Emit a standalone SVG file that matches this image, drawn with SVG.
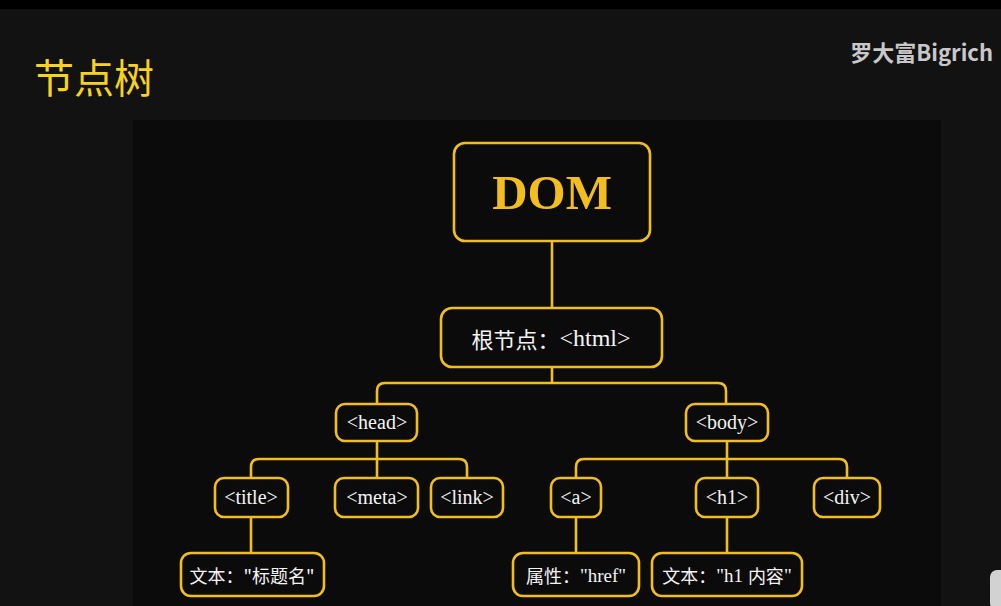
<svg xmlns="http://www.w3.org/2000/svg" width="1001" height="606" viewBox="0 0 1001 606">
<style>
.box{fill:#0b0b0b;stroke:#f2be1f;stroke-width:2.6}
.ln{fill:none;stroke:#f2be1f;stroke-width:2.6}
.t{font-family:"Liberation Serif","Noto Sans CJK SC",serif;fill:#f4f4f4;font-size:20px;text-anchor:middle;dominant-baseline:central}
.c{font-family:"Noto Sans CJK SC","Liberation Sans",sans-serif;fill:#f4f4f4;font-size:18px;text-anchor:middle;dominant-baseline:central}
.s{font-family:"Liberation Serif",serif;font-size:19px}
</style>
<rect x="0" y="0" width="1001" height="606" fill="#121212"/>
<rect x="0" y="0" width="1001" height="9" fill="#000"/>
<rect x="133" y="120" width="808" height="486" fill="#0b0b0b"/>
<text x="34" y="93" font-family="Noto Sans CJK SC,sans-serif" font-size="40" fill="#f7d21e">节点树</text>
<text x="993" y="61" text-anchor="end" font-family="Noto Sans CJK SC,sans-serif" font-weight="bold" font-size="22" fill="#c8c8c8">罗大富Bigrich</text>
<rect x="990" y="570" width="20" height="40" rx="7" fill="#d2d2d2"/>
<g id="connectors">
<path class="ln" d="M552 241V308"/>
<path class="ln" d="M552 367V383M377 404V391Q377 383 385 383H718Q726 383 726 391V404"/>
<path class="ln" d="M377 441V478M251 478V467Q251 459 259 459H459Q467 459 467 467V478"/>
<path class="ln" d="M727 441V478M576 478V467Q576 459 584 459H839Q847 459 847 467V478"/>
<path class="ln" d="M251 517V553"/>
<path class="ln" d="M576 517V553"/>
<path class="ln" d="M727 517V553"/>
</g>
<g id="dom"><rect class="box" x="454" y="143" width="196" height="98" rx="11"/><text x="552" y="192" text-anchor="middle" dominant-baseline="central" font-family="Liberation Serif,serif" font-weight="bold" font-size="49" fill="#f2be1f">DOM</text></g>
<g id="html"><rect class="box" x="441" y="308" width="221" height="59" rx="11"/><text class="t" x="551" y="338" style="font-size:24px"><tspan font-family="Noto Sans CJK SC,sans-serif" style="font-size:22px">根节点：</tspan>&lt;html&gt;</text></g>
<g id="head"><rect class="box" x="336" y="404" width="81" height="37" rx="9"/><text class="t" x="377" y="422">&lt;head&gt;</text></g>
<g id="body"><rect class="box" x="686" y="404" width="82" height="37" rx="9"/><text class="t" x="727" y="422">&lt;body&gt;</text></g>
<g id="title"><rect class="box" x="215" y="478" width="73" height="39" rx="9"/><text class="t" x="251" y="497">&lt;title&gt;</text></g>
<g id="meta"><rect class="box" x="335" y="478" width="83" height="39" rx="9"/><text class="t" x="377" y="497">&lt;meta&gt;</text></g>
<g id="link"><rect class="box" x="431" y="478" width="72" height="39" rx="9"/><text class="t" x="467" y="497">&lt;link&gt;</text></g>
<g id="a"><rect class="box" x="551" y="478" width="50" height="39" rx="9"/><text class="t" x="576" y="497">&lt;a&gt;</text></g>
<g id="h1"><rect class="box" x="696" y="478" width="62" height="39" rx="9"/><text class="t" x="727" y="497">&lt;h1&gt;</text></g>
<g id="div"><rect class="box" x="814" y="478" width="66" height="39" rx="9"/><text class="t" x="847" y="497">&lt;div&gt;</text></g>
<g id="text-title"><rect class="box" x="181" y="553" width="143" height="43" rx="10"/><text class="c" x="252" y="575">文本："标题名"</text></g>
<g id="attr-href"><rect class="box" x="513" y="553" width="126" height="43" rx="10"/><text class="c" x="576" y="575">属性：<tspan class="s">"href"</tspan></text></g>
<g id="text-h1"><rect class="box" x="652" y="553" width="150" height="43" rx="10"/><text class="c" x="727" y="575">文本：<tspan class="s">"h1 </tspan>内容<tspan class="s">"</tspan></text></g>
</svg>
